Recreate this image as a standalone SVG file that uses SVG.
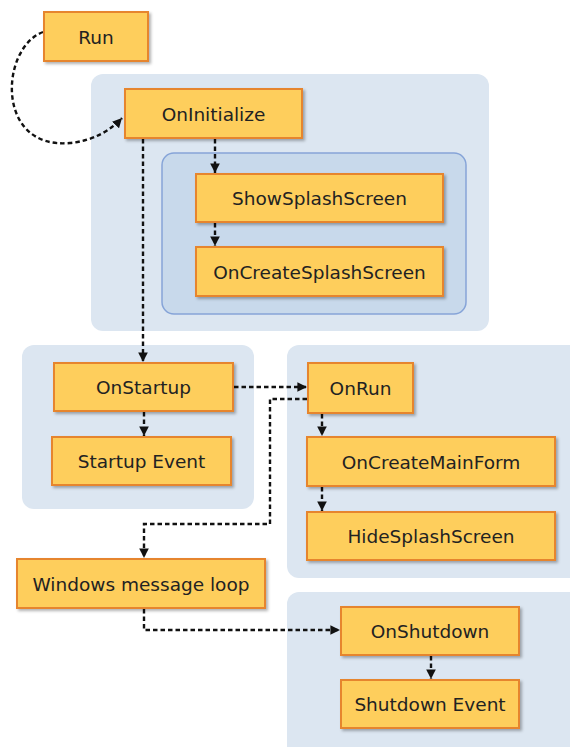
<svg xmlns="http://www.w3.org/2000/svg" width="570" height="747" viewBox="0 0 570 747">
<style>
.grp{fill:#DCE6F1;stroke:none}
.inner{fill:#C8D9EB;stroke:#86A4D8;stroke-width:1.5}
.box{fill:#FECE5B;stroke:#E6852E;stroke-width:2;filter:url(#sh)}
.lbl{font-family:"DejaVu Sans",Verdana,sans-serif;font-size:18.5px;fill:#222;text-anchor:middle;dominant-baseline:central}
.c{fill:none;stroke:#111;stroke-width:2.4;stroke-dasharray:4.5 3;marker-end:url(#ah)}
</style>
<defs>
<filter id="sh" x="-10%" y="-20%" width="130%" height="160%">
<feDropShadow dx="2" dy="2" stdDeviation="1.5" flood-color="#000" flood-opacity="0.3"/>
</filter>
<marker id="ah" viewBox="0 0 10 10" refX="10" refY="5" markerWidth="4" markerHeight="4" orient="auto" markerUnits="strokeWidth">
<path d="M0,0 L10,5 L0,10 Z" fill="#111"/>
</marker>
</defs>
<g id="containers">
<rect class="grp" x="91" y="74" width="398" height="257" rx="12"/>
<rect class="inner" x="162" y="153" width="304" height="161" rx="12"/>
<rect class="grp" x="22" y="345" width="232" height="164" rx="12"/>
<rect class="grp" x="287" y="345" width="295" height="233" rx="12"/>
<rect class="grp" x="287" y="592" width="295" height="170" rx="12"/>
</g>
<g id="connectors">
<path class="c" d="M43,32 C0,48 -5,150 70,143 C92,141 110,131 122,118"/>
<path class="c" d="M143,139 L143,362"/>
<path class="c" d="M215,139 L215,173"/>
<path class="c" d="M215,223 L215,246"/>
<path class="c" d="M144,412 L144,436"/>
<path class="c" d="M234,387 L307,387"/>
<path class="c" d="M307,399 L270,399 L270,524 L144,524 L144,558"/>
<path class="c" d="M322,414 L322,436"/>
<path class="c" d="M322,487 L322,511"/>
<path class="c" d="M144,609 L144,630 L340,630"/>
<path class="c" d="M431,656 L431,679"/>
</g>
<g id="run"><rect class="box" x="44" y="12" width="104" height="49"/><text class="lbl" x="96" y="37">Run</text></g>
<g id="oninitialize"><rect class="box" x="125" y="89" width="177" height="49"/><text class="lbl" x="213.5" y="114">OnInitialize</text></g>
<g id="showsplashscreen"><rect class="box" x="196" y="174" width="247" height="48"/><text class="lbl" x="319.5" y="198">ShowSplashScreen</text></g>
<g id="oncreatesplashscreen"><rect class="box" x="196" y="247" width="247" height="49"/><text class="lbl" x="319.5" y="272">OnCreateSplashScreen</text></g>
<g id="onstartup"><rect class="box" x="54" y="363" width="179" height="48"/><text class="lbl" x="143.5" y="387">OnStartup</text></g>
<g id="startupevent"><rect class="box" x="52" y="437" width="179" height="48"/><text class="lbl" x="141.5" y="461">Startup Event</text></g>
<g id="onrun"><rect class="box" x="308" y="363" width="105" height="50"/><text class="lbl" x="360.5" y="388">OnRun</text></g>
<g id="oncreatemainform"><rect class="box" x="307" y="437" width="248" height="49"/><text class="lbl" x="431" y="462">OnCreateMainForm</text></g>
<g id="hidesplashscreen"><rect class="box" x="307" y="512" width="248" height="48"/><text class="lbl" x="431" y="536">HideSplashScreen</text></g>
<g id="windowsmessageloop"><rect class="box" x="17" y="559" width="248" height="49"/><text class="lbl" x="141" y="584">Windows message loop</text></g>
<g id="onshutdown"><rect class="box" x="341" y="607" width="178" height="48"/><text class="lbl" x="430" y="631">OnShutdown</text></g>
<g id="shutdownevent"><rect class="box" x="341" y="680" width="178" height="48"/><text class="lbl" x="430" y="704">Shutdown Event</text></g>
</svg>
